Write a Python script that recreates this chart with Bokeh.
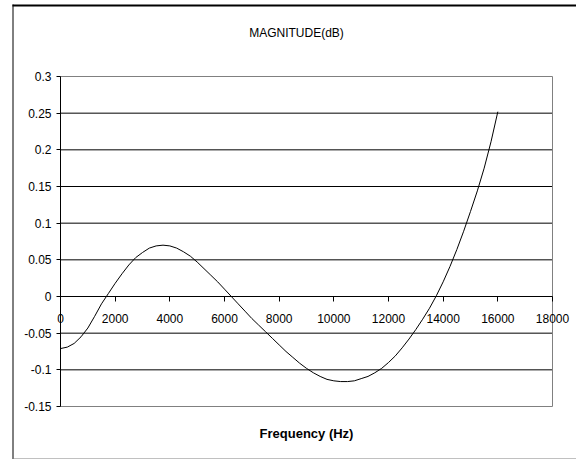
from bokeh.plotting import figure
from bokeh.models import Range1d, FixedTicker, Label
from bokeh.embed import file_html
from bokeh.resources import INLINE

# ---- data ----
freq_hz = [0, 250, 500, 750, 1000, 1250, 1500, 1750, 2000, 2250, 2500, 2750,
           3000, 3250, 3500, 3750, 4000, 4250, 4500, 4750, 5000, 5250, 5500,
           5750, 6000, 6250, 6500, 6750, 7000, 7250, 7500, 7750, 8000, 8250,
           8500, 8750, 9000, 9250, 9500, 9750, 10000, 10250, 10500, 10750,
           11000, 11250, 11500, 11750, 12000, 12250, 12500, 12750, 13000,
           13250, 13500, 13750, 14000, 14250, 14500, 14750, 15000, 15250,
           15500, 15750, 16000]
magnitude_db = [-0.071, -0.069, -0.064, -0.055, -0.043, -0.027, -0.010,
                0.004, 0.018, 0.031, 0.043, 0.053, 0.060, 0.066, 0.069,
                0.070, 0.069, 0.066, 0.061, 0.055, 0.047, 0.038, 0.029,
                0.020, 0.010, 0.000, -0.010, -0.020, -0.030, -0.039, -0.048,
                -0.057, -0.066, -0.075, -0.083, -0.091, -0.098, -0.104,
                -0.109, -0.113, -0.115, -0.116, -0.116, -0.115, -0.112,
                -0.109, -0.104, -0.098, -0.090, -0.081, -0.070, -0.058,
                -0.045, -0.031, -0.016, 0.001, 0.020, 0.041, 0.064, 0.089,
                0.116, 0.144, 0.175, 0.211, 0.252]

x_ticks = [0, 2000, 4000, 6000, 8000, 10000, 12000, 14000, 16000, 18000]
x_tick_labels = ["0", "2000", "4000", "6000", "8000", "10000", "12000",
                 "14000", "16000", "18000"]
y_ticks = [-0.15, -0.1, -0.05, 0, 0.05, 0.1, 0.15, 0.2, 0.25, 0.3]
y_tick_labels = ["-0.15", "-0.1", "-0.05", "0", "0.05", "0.1", "0.15",
                 "0.2", "0.25", "0.3"]
x_min, x_max = 0, 18000
y_min, y_max = -0.15, 0.3

chart_title = "MAGNITUDE(dB)"
x_title = "Frequency (Hz)"

FONT = "Liberation Sans"

# ---- layout (pixels on the canvas) ----
W, H = 576, 459
PX_L, PX_R, PX_T, PX_B = 60, 552, 76, 406   # plot area

sx = (x_max - x_min) / (PX_R - PX_L)
sy = (y_max - y_min) / (PX_B - PX_T)


def dx(px):
    return x_min + (px - PX_L) * sx


def dy(py):
    return y_max - (py - PX_T) * sy


p = figure(width=W, height=H, output_backend="svg", toolbar_location=None,
           title=None,
           x_range=Range1d(dx(0), dx(W)), y_range=Range1d(dy(H), dy(0)),
           min_border_left=0, min_border_right=0, min_border_top=0,
           min_border_bottom=0, background_fill_color="white",
           border_fill_color="white")
p.outline_line_color = None
p.grid.visible = False

# outer chart-area border (top, left, bottom)
p.segment(x0=[dx(12), dx(12.5)], x1=[dx(W), dx(12.5)],
          y0=[dy(5), dy(4)], y1=[dy(5), dy(H)],
          line_color="black", line_width=[2, 1])
p.segment(x0=[dx(12)], x1=[dx(W)], y0=[dy(H - 0.5)], y1=[dy(H - 0.5)],
          line_color="#808080", line_width=1)

# plot-area gridlines and border
inner = [t for t in y_ticks if y_min < t < y_max and t != 0]
p.segment(x0=[x_min] * len(inner), x1=[x_max] * len(inner), y0=inner,
          y1=inner, line_color="black", line_width=1)
p.quad(left=[x_min], right=[x_max], bottom=[y_min], top=[y_max],
       fill_color=None, line_color="#808080", line_width=1)

# x axis crossing at y = 0
xa = p.xaxis[0]
xa.fixed_location = 0
xa.bounds = (x_min, x_max)
xa.ticker = FixedTicker(ticks=x_ticks)
xa.major_label_overrides = dict(zip(x_ticks, x_tick_labels))
xa.axis_line_color = "black"
xa.major_tick_line_color = "black"
xa.major_tick_in = 0
xa.major_tick_out = 5
xa.minor_tick_line_color = None
xa.major_label_standoff = 12
xa.major_label_text_font = FONT
xa.major_label_text_font_size = "12px"
xa.major_label_text_color = "black"

# y axis at x = 0
ya = p.yaxis[0]
ya.fixed_location = 0
ya.bounds = (y_min, y_max)
ya.ticker = FixedTicker(ticks=y_ticks)
ya.major_label_overrides = dict(zip(y_ticks, y_tick_labels))
ya.axis_line_color = "black"
ya.major_tick_line_color = "black"
ya.major_tick_in = 0
ya.major_tick_out = 4
ya.minor_tick_line_color = None
ya.major_label_standoff = 5
ya.major_label_text_font = FONT
ya.major_label_text_font_size = "12px"
ya.major_label_text_color = "black"

p.line(freq_hz, magnitude_db, line_color="black", line_width=1)

# titles
p.add_layout(Label(x=dx(296), y=dy(32), text=chart_title,
                   text_align="center", text_baseline="middle",
                   text_font=FONT, text_font_size="12px", text_color="black"))
p.add_layout(Label(x=dx(306), y=dy(433), text=x_title, text_align="center",
                   text_baseline="middle", text_font=FONT,
                   text_font_size="13px", text_font_style="bold",
                   text_color="black"))

open("out.html", "w").write(file_html(p, INLINE))
